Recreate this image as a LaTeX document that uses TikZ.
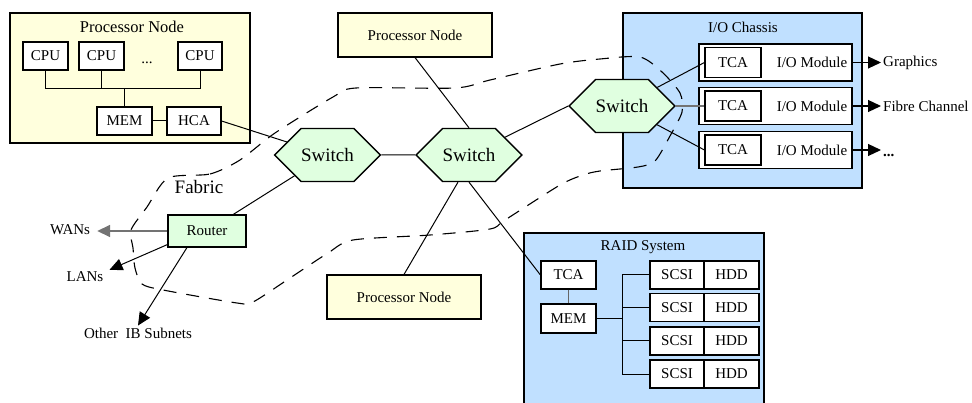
\documentclass[tikz,border=0pt]{standalone}
\usepackage{fontspec}
\setmainfont{Liberation Serif}
\usetikzlibrary{arrows.meta,shapes.symbols}

\definecolor{pnyellow}{RGB}{255,255,221}
\definecolor{swgreen}{RGB}{224,255,224}
\definecolor{ioblue}{RGB}{192,224,255}

\begin{document}
\begin{tikzpicture}[x=1pt,y=-1pt,
  font=\fontsize{15}{18}\selectfont,
  box/.style={draw, line width=1.1pt, fill=white, inner sep=0pt},
  container/.style={draw, line width=1.1pt, inner sep=0pt},
  sw/.style={draw, line width=1.3pt, fill=swgreen, shape=signal,
    signal to=east and west, signal pointer angle=90,
    minimum width=99pt, minimum height=53pt, inner sep=0pt,
    font=\fontsize{19}{22}\selectfont},
  wire/.style={line width=1pt},
  heavy/.style={line width=1.8pt, draw=black!55},
  tip/.style={-{Triangle[length=13pt,width=12pt]}},
  lbl/.style={inner sep=2pt},
  fabric/.style={line width=1.1pt, dash pattern=on 13pt off 10pt}]

\useasboundingbox (0,0) rectangle (972,403);

% ---- containers ----
\node[container, fill=pnyellow, minimum width=240pt, minimum height=130pt] (pnA) at (130,78) {};
\node (pnAtitle) at (132,27) {\fontsize{16.5}{20}\selectfont Processor Node};

\node[container, fill=ioblue, minimum width=239pt, minimum height=175pt] (chassis) at (742.5,100.5) {};
\node (chassistitle) at (743,27) {I/O Chassis};

\node[container, fill=ioblue, minimum width=240pt, minimum height=190pt] (raid) at (644,328) {};
\node (raidtitle) at (643,247) {RAID System};

% ---- fabric outline ----
\draw[fabric] plot[smooth cycle, tension=0.45] coordinates {
  (168,178) (210,174) (240,160) (275,133) (333,97) (356,88) (455,88)
  (490,80) (560,64) (600,59) (640,57) (662,72) (680,93) (682,112)
  (670,136) (655,161) (638,167) (600,171) (583,175) (560,185)
  (505,220) (490,229) (430,235) (353,240) (328,253) (290,278)
  (253,302) (237,303) (163,290) (142,284) (135,268) (133,248)
  (131,230) (147,207)};
\node (fabriclbl) at (199,187) {\fontsize{19}{22}\selectfont Fabric};

% ---- processor node (detailed) ----
\node[box, minimum width=45pt, minimum height=28pt] (cpu1) at (45.5,56) {CPU};
\node[box, minimum width=45pt, minimum height=28pt] (cpu2) at (101.5,56) {CPU};
\node[box, minimum width=44pt, minimum height=28pt] (cpu3) at (200,56) {CPU};
\node[anchor=base] (cpudots) at (147,64) {...};
\node[box, minimum width=55pt, minimum height=28pt] (mem) at (124.5,121) {MEM};
\node[box, minimum width=54pt, minimum height=28pt] (hca) at (194,121) {HCA};
\coordinate (bus) at (0,89);
\draw[wire] (cpu1.south) -- (cpu1.south |- bus) -- (cpu3.south |- bus) -- (cpu3.south);
\draw[wire] (cpu2.south) -- (cpu2.south |- bus);
\draw[wire] (mem.north) -- (mem.north |- bus);
\draw[wire] (mem.east) -- (hca.west);

% ---- other processor nodes ----
\node[box, fill=pnyellow, minimum width=154pt, minimum height=44pt] (pnB) at (415,35) {Processor Node};
\node[box, fill=pnyellow, minimum width=154pt, minimum height=44pt] (pnC) at (404,297) {Processor Node};

% ---- switches ----
\node[sw] (s1) at (327.5,155) {Switch};
\node[sw] (s2) at (469,155) {Switch};

% ---- I/O modules ----
\foreach \i/\y in {1/62.5, 2/106, 3/150} {
  \node[box, minimum width=153pt, minimum height=37pt] (iom\i) at (775.5,\y) {};
  \node[box, minimum width=56pt, minimum height=30pt] (iotca\i) at (733,\y) {TCA};
  \node (iomlbl\i) at (812,\y) {I/O Module};
}
\node[sw] (s3) at (622,106) {Switch};

\node[lbl, anchor=west] (gfx) at (881,62.5) {Graphics};
\node[lbl, anchor=west] (fc) at (881,106) {Fibre Channel};
\node[lbl, anchor=base west] (more) at (881,157) {\textbf{...}};
\draw[line width=1.2pt, tip] (iom1.east) -- (gfx.west);
\draw[line width=1.2pt, tip] (iom2.east) -- (fc.west);
\draw[line width=1.2pt, tip] (iom3.east) -- (iom3.east -| more.west);

\draw[wire] (s3) -- (iotca1.west);
\draw[heavy] (s3.east) -- (iotca2.west);
\draw[wire] (s3) -- (iotca3.west);

% ---- RAID system ----
\node[box, minimum width=55pt, minimum height=28pt] (rtca) at (568.5,275) {TCA};
\node[box, minimum width=55pt, minimum height=29pt] (rmem) at (568.5,318.5) {MEM};
\draw[line width=1.4pt, draw=black!60] (rtca.south) -- (rmem.north);
\coordinate (rbus) at (622,0);
\foreach \i/\y in {1/275, 2/307.5, 3/341, 4/374} {
  \node[box, minimum width=54pt, minimum height=28pt] (scsi\i) at (677,\y) {SCSI};
  \node[box, minimum width=55pt, minimum height=28pt] (hdd\i) at (731.5,\y) {HDD};
  \draw[wire] (rbus |- scsi\i.west) -- (scsi\i.west);
}
\draw[wire] (rbus |- scsi1.west) -- (rbus |- scsi4.west);
\draw[wire] (rmem.east) -- (rmem.east -| rbus);

% ---- router ----
\node[box, fill=swgreen, minimum width=78pt, minimum height=32pt] (router) at (207,231) {Router};
\node[lbl] (wans) at (70,230) {WANs};
\node[lbl] (lans) at (85,277) {LANs};
\node[lbl] (ibsub) at (138,333) {Other~~IB Subnets};
\draw[heavy, line width=1.6pt, tip] (router.west) -- ([xshift=5pt]router.west -| wans.east);
\draw[wire, tip] ([yshift=3pt]router.south west) -- ([xshift=4pt]lans.north east);
\draw[wire, tip] ([xshift=-20pt]router.south) -- (ibsub.north);

% ---- fabric links ----
\draw[wire] (hca.east) -- (s1);
\draw[wire] (s1) -- (s2);
\draw[wire] (router) -- (s1);
\draw[wire] (pnB.south) -- (s2.north);
\draw[wire] (s2) -- (s3.west);
\draw[wire] ([xshift=-11pt]s2.south) -- (pnC.north);
\draw[wire] (s2.south) -- (rtca.west);

\end{tikzpicture}
\end{document}
